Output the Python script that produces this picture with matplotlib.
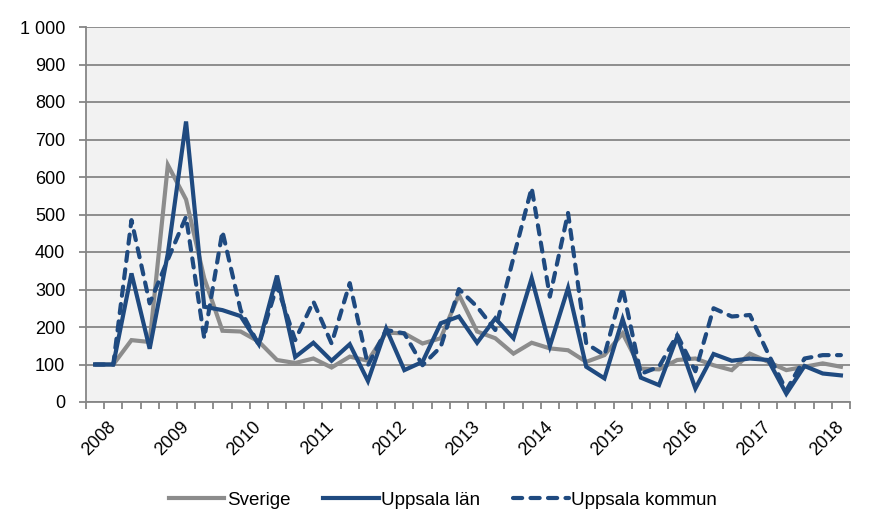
import numpy as np
import matplotlib
matplotlib.use("Agg")
import matplotlib.pyplot as plt

plt.rcParams['font.family'] = ['Liberation Sans', 'DejaVu Sans']

# Quarterly index values, 2008 Q1 - 2018 Q2
sverige = [100, 100, 165, 160, 632, 540, 330, 190, 188, 161,
           112, 104, 116, 92, 121, 110, 185, 183, 156, 170,
           286, 188, 170, 129, 158, 143, 138, 107, 125, 183,
           89, 87, 112, 116, 98, 85, 129, 107, 85, 94,
           103, 94]
uppsala_lan = [100, 100, 343, 142, 396, 748, 254, 245, 229, 154,
               337, 120, 158, 110, 154, 56, 196, 85, 107, 210,
               228, 158, 223, 170, 330, 149, 304, 94, 63, 221,
               65, 45, 174, 36, 128, 110, 116, 112, 22, 96,
               76, 71]
uppsala_kommun = [100, 100, 485, 263, 380, 494, 170, 455, 245, 152,
                  310, 165, 268, 156, 317, 98, 192, 183, 98, 147,
                  301, 254, 192, 385, 571, 281, 504, 156, 125, 304,
                  75, 94, 179, 82, 250, 228, 232, 129, 31, 116,
                  125, 125]
year_labels = ['2008', '2009', '2010', '2011', '2012', '2013',
               '2014', '2015', '2016', '2017', '2018']

gray = '#8C8C8C'
blue = '#1F4A80'
grid_c = '#868686'

x = np.arange(len(sverige))

fig = plt.figure(figsize=(8.86, 5.32), dpi=100)
ax = fig.add_axes([86 / 886, 1 - 402 / 532, (850 - 86) / 886, (402 - 27) / 532])
ax.set_facecolor('#F2F2F2')

ax.plot(x, sverige, color=gray, lw=3, label='Sverige', solid_joinstyle='miter')
ax.plot(x, uppsala_lan, color=blue, lw=3, label='Uppsala län', solid_joinstyle='miter')
ax.plot(x, uppsala_kommun, color=blue, lw=3, ls=(0, (2.2, 2.0)), dash_capstyle='round',
        label='Uppsala kommun')

ax.set_xlim(-0.5, len(x) - 0.5)
ax.set_ylim(0, 1000)

ax.set_yticks(np.arange(0, 1001, 100))
ax.set_yticklabels(['0', '100', '200', '300', '400', '500', '600', '700', '800', '900', '1 000'])
ax.yaxis.grid(True, color=grid_c, lw=1.3)
ax.set_axisbelow(True)

ax.set_xticks(np.arange(-0.5, len(x), 1))
ax.set_xticklabels([])
ax.set_xticks(np.arange(1, len(x), 4), minor=True)
ax.set_xticklabels(year_labels, minor=True, rotation=45, ha='right', va='center',
                   rotation_mode='anchor')
ax.tick_params(axis='x', which='major', length=5, width=1.3, color=grid_c, direction='out')
ax.tick_params(axis='x', which='minor', length=0, pad=16, labelsize=13)
ax.tick_params(axis='y', length=5, width=1.3, color=grid_c, labelsize=13, pad=10)

for s in ['top', 'right']:
    ax.spines[s].set_visible(False)
for s in ['left', 'bottom']:
    ax.spines[s].set_color(grid_c)
    ax.spines[s].set_linewidth(1.3)

leg = fig.legend(loc='center', bbox_to_anchor=(0.5, 1 - 500 / 532), ncol=3, frameon=False,
                 fontsize=13.5, handlelength=2.95, handletextpad=0.15, columnspacing=1.75)

fig.savefig('out.png', dpi=100)
